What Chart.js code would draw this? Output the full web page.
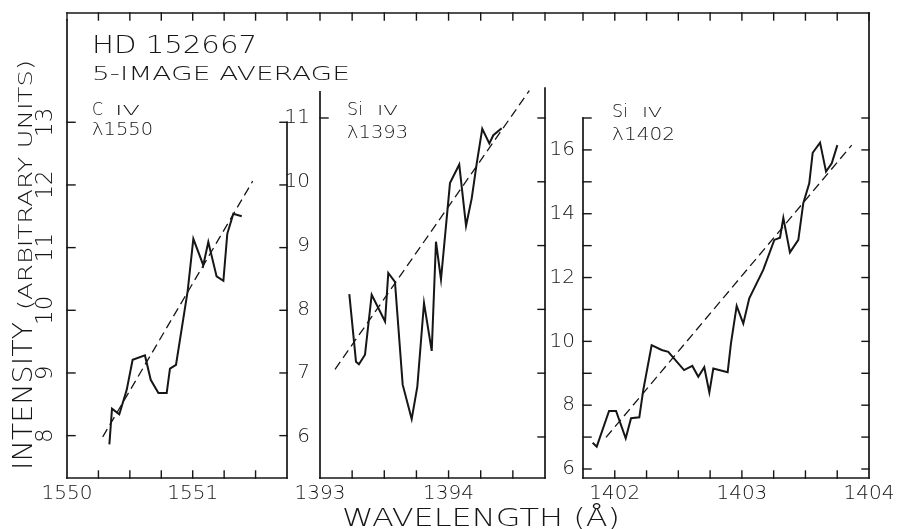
<!DOCTYPE html>
<html>
<head>
<meta charset="utf-8">
<script src="https://cdn.jsdelivr.net/npm/chart.js@4.4.1/dist/chart.umd.min.js"></script>
<style>
  html, body { margin: 0; padding: 0; background: #fff; }
  #fig { position: relative; width: 904px; height: 529px; background: #fff; overflow: hidden; }
  #fig canvas { position: absolute; left: 0; top: 0; }
</style>
</head>
<body>
<div id="fig">
  <canvas id="civ" width="904" height="529"></canvas>
  <canvas id="si1393" width="904" height="529"></canvas>
  <canvas id="si1402" width="904" height="529"></canvas>
</div>
<script>
// ---- C IV 1550: averaged profile and fitted trend ----
const civWave = [1550.337, 1550.358, 1550.416, 1550.475, 1550.522, 1550.62, 1550.666, 1550.727, 1550.793, 1550.819,
                 1550.867, 1550.96, 1551.005, 1551.084, 1551.124, 1551.19, 1551.244, 1551.275, 1551.323, 1551.39];
const civFlux = [7.86, 8.43, 8.34, 8.73, 9.21, 9.28, 8.89, 8.68, 8.68, 9.07,
                 9.13, 10.31, 11.14, 10.72, 11.09, 10.54, 10.47, 11.22, 11.54, 11.50];
const civFitWave = [1550.284, 1551.477];
const civFitFlux = [7.98, 12.06];
const civWaveLabels = ['1550', '1551'];
const civFluxLabels = ['8', '9', '10', '11', '12', '13'];

// ---- Si IV 1393 ----
const si93Wave = [1393.228, 1393.28, 1393.303, 1393.35, 1393.402, 1393.506, 1393.531, 1393.583, 1393.643, 1393.713,
                  1393.757, 1393.809, 1393.869, 1393.902, 1393.941, 1394.011, 1394.083, 1394.136, 1394.18, 1394.219,
                  1394.262, 1394.317, 1394.348, 1394.413];
const si93Flux = [8.24, 7.18, 7.14, 7.29, 8.23, 7.81, 8.57, 8.43, 6.82, 6.28,
                  6.79, 8.10, 7.35, 9.06, 8.47, 9.98, 10.27, 9.31, 9.74, 10.29,
                  10.83, 10.60, 10.73, 10.84];
const si93FitWave = [1393.117, 1394.628];
const si93FitFlux = [7.06, 11.43];
const si93WaveLabels = ['1393', '1394'];
const si93FluxLabels = ['6', '7', '8', '9', '10', '11'];

// ---- Si IV 1402 ----
const si02Wave = [1401.826, 1401.858, 1401.955, 1402.01, 1402.086, 1402.128, 1402.193, 1402.224, 1402.29, 1402.369,
                  1402.421, 1402.545, 1402.61, 1402.657, 1402.704, 1402.744, 1402.775, 1402.888, 1402.914, 1402.959,
                  1403.011, 1403.058, 1403.168, 1403.255, 1403.3, 1403.326, 1403.378, 1403.444, 1403.483, 1403.53,
                  1403.557, 1403.615, 1403.662, 1403.707, 1403.751];
const si02Flux = [6.82, 6.70, 7.82, 7.82, 6.96, 7.59, 7.62, 8.47, 9.88, 9.73,
                  9.67, 9.10, 9.23, 8.89, 9.19, 8.40, 9.15, 9.03, 9.94, 11.11,
                  10.56, 11.35, 12.24, 13.18, 13.25, 13.87, 12.79, 13.18, 14.33, 14.95,
                  15.91, 16.23, 15.32, 15.58, 16.15];
const si02FitWave = [1401.931, 1403.864];
const si02FitFlux = [6.99, 16.15];
const si02WaveLabels = ['1402', '1403', '1404'];
const si02FluxLabels = ['6', '8', '10', '12', '14', '16'];

// ---- drawing setup ----
const INK = '#161616';
const FAMILY = '"DejaVu Sans", "Liberation Sans", sans-serif';
const W = 904, H = 529;
const FRAME_TOP = 13;          // top edge of the figure frame
const X_AXIS_H = 51;           // height reserved below the panels for wavelength labels
const WAVE_STEP = 0.25;        // spacing of wavelength tick marks

// plot rectangles of the three panels
const BOXES = [
  { left: 67,  right: 287, top: 13,  bottom: 478 },
  { left: 320, right: 545, top: 88,  bottom: 478 },
  { left: 583, right: 869, top: 118, bottom: 478 }
];

const pts = (xs, ys) => xs.map((x, i) => ({ x, y: ys[i] }));

function wideText(ctx, str, x, y, size, width) {
  ctx.font = `200 ${size}px ${FAMILY}`;
  const k = width / ctx.measureText(str).width;
  ctx.save();
  ctx.translate(x, y);
  ctx.scale(k, 1);
  ctx.fillText(str, 0, 0);
  ctx.restore();
}

// axis lines, inward tick marks and panel captions
const framePlugin = {
  id: 'frame',
  afterDatasetsDraw(chart, args, o) {
    const { ctx, chartArea: a, scales: { x, y } } = chart;
    ctx.save();
    ctx.strokeStyle = INK;
    ctx.fillStyle = INK;
    ctx.lineCap = 'square';
    const seg = (x1, y1, x2, y2) => { ctx.beginPath(); ctx.moveTo(x1, y1); ctx.lineTo(x2, y2); ctx.stroke(); };

    ctx.lineWidth = 1.7;
    const leftTop = o.leftTop == null ? a.top : y.getPixelForValue(o.leftTop);
    seg(a.left, leftTop, a.left, a.bottom);
    let rightTop = a.top;
    if (o.rightTop === 'frame') rightTop = FRAME_TOP;
    else if (o.rightTop != null) rightTop = y.getPixelForValue(o.rightTop);
    seg(a.right, rightTop, a.right, a.bottom);
    seg(a.left, a.bottom, a.right, a.bottom);
    if (o.topLine) seg(o.topLine[0], FRAME_TOP, o.topLine[1], FRAME_TOP);

    ctx.lineWidth = 1.4;
    const k0 = Math.ceil(x.min / WAVE_STEP - 1e-6), k1 = Math.floor(x.max / WAVE_STEP + 1e-6);
    for (let k = k0; k <= k1; k++) {
      const px = x.getPixelForValue(k * WAVE_STEP);
      if (px > a.left + 3 && px < a.right - 3) seg(px, a.bottom, px, a.bottom - 7);
      seg(px, FRAME_TOP, px, FRAME_TOP + 7);
    }
    for (const v of o.leftTicks) { const py = y.getPixelForValue(v); seg(a.left, py, a.left + 8, py); }
    for (const v of o.rightTicks) { const py = y.getPixelForValue(v); seg(a.right, py, a.right - 7, py); }

    // ion and line caption
    const c = o.caption;
    wideText(ctx, c.el, c.x, c.y, 17, c.elW);
    wideText(ctx, c.stage, c.stageX, c.y, 14, c.stageW);
    wideText(ctx, c.line, c.x, c.y2, 17, c.lineW);

    if (o.titles) {
      wideText(ctx, 'HD 152667', 92, 53, 24, 165);
      wideText(ctx, '5-IMAGE AVERAGE', 92, 80, 19, 258);
      ctx.save();
      ctx.translate(32, 470);
      ctx.rotate(-Math.PI / 2);
      wideText(ctx, 'INTENSITY', 0, 0, 26, 148);
      wideText(ctx, '(ARBITRARY UNITS)', 160, 0, 19, 250);
      ctx.restore();
      wideText(ctx, 'WAVELENGTH (Å)', 342, 526, 25, 278);
    }
    ctx.restore();
  }
};

function panel(id, p) {
  const box = p.box;
  const tickFont = { family: FAMILY, size: 20, weight: 200 };
  return new Chart(document.getElementById(id), {
    type: 'line',
    data: {
      datasets: [
        { data: pts(p.wave, p.flux), borderColor: INK, borderWidth: 2, pointRadius: 0, tension: 0, fill: false },
        { data: pts(p.fitWave, p.fitFlux), borderColor: INK, borderWidth: 1.3, borderDash: [9, 5],
          pointRadius: 0, tension: 0, fill: false }
      ]
    },
    options: {
      responsive: false,
      animation: false,
      devicePixelRatio: 1,
      events: [],
      layout: {
        padding: { left: box.left - p.yAxisW, right: W - box.right, top: box.top, bottom: H - box.bottom - X_AXIS_H }
      },
      plugins: { legend: { display: false }, tooltip: { enabled: false }, frame: p.frame },
      scales: {
        x: {
          type: 'linear', bounds: 'data', min: p.xMin, max: p.xMax,
          grid: { display: false, drawTicks: false }, border: { display: false },
          afterBuildTicks: s => { s.ticks = p.xLabels.map(t => ({ value: Number(t) })); },
          afterFit: s => { s.height = X_AXIS_H; },
          ticks: { autoSkip: false, minRotation: 0, maxRotation: 0, padding: 4, color: INK, font: tickFont,
                   callback: (v, i) => p.xLabels[i] }
        },
        y: {
          type: 'linear', bounds: 'data', min: p.yMin, max: p.yMax,
          grid: { display: false, drawTicks: false }, border: { display: false },
          afterBuildTicks: s => { s.ticks = p.yLabels.map(t => ({ value: Number(t) })); },
          afterFit: s => { s.width = p.yAxisW; },
          ticks: { autoSkip: false, minRotation: p.yRot, maxRotation: p.yRot, crossAlign: p.yCross,
                   padding: p.yPad, color: INK, font: { family: FAMILY, size: p.yFont, weight: 200 },
                   callback: (v, i) => p.yLabels[i] }
        }
      }
    },
    plugins: [framePlugin]
  });
}

const range = (a, b) => { const r = []; for (let v = a; v <= b; v++) r.push(v); return r; };

panel('civ', {
  box: BOXES[0], wave: civWave, flux: civFlux, fitWave: civFitWave, fitFlux: civFitFlux,
  xLabels: civWaveLabels, yLabels: civFluxLabels,
  xMin: 1550, xMax: 1551.75, yMin: 7.324, yMax: 14.635,
  yAxisW: 60, yRot: 90, yCross: 'center', yPad: 6, yFont: 23,
  frame: {
    leftTop: null, rightTop: 13, leftTicks: range(8, 13), rightTicks: range(8, 13),
    topLine: [BOXES[0].left, BOXES[2].right], titles: true,
    caption: { el: 'C', stage: 'IV', line: 'λ1550', x: 92, y: 115, y2: 135, elW: 11, stageX: 115, stageW: 25, lineW: 61 }
  }
});

panel('si1393', {
  box: BOXES[1], wave: si93Wave, flux: si93Flux, fitWave: si93FitWave, fitFlux: si93FitFlux,
  xLabels: si93WaveLabels, yLabels: si93FluxLabels,
  xMin: 1393, xMax: 1394.75, yMin: 5.357, yMax: 11.47,
  yAxisW: 40, yRot: 0, yCross: 'near', yPad: 10, yFont: 20,
  frame: {
    leftTop: 11.41, rightTop: null, leftTicks: [11], rightTicks: range(6, 11),
    caption: { el: 'Si', stage: 'IV', line: 'λ1393', x: 347, y: 115, y2: 138, elW: 16, stageX: 377, stageW: 21, lineW: 61 }
  }
});

panel('si1402', {
  box: BOXES[2], wave: si02Wave, flux: si02Flux, fitWave: si02FitWave, fitFlux: si02FitFlux,
  xLabels: si02WaveLabels, yLabels: si02FluxLabels,
  xMin: 1401.75, xMax: 1404, yMin: 5.718, yMax: 17,
  yAxisW: 40, yRot: 0, yCross: 'near', yPad: 8, yFont: 20,
  frame: {
    leftTop: null, rightTop: 'frame', leftTicks: range(6, 17), rightTicks: range(6, 17),
    caption: { el: 'Si', stage: 'IV', line: 'λ1402', x: 612, y: 117, y2: 140, elW: 16, stageX: 642, stageW: 20, lineW: 63 }
  }
});
</script>
</body>
</html>
